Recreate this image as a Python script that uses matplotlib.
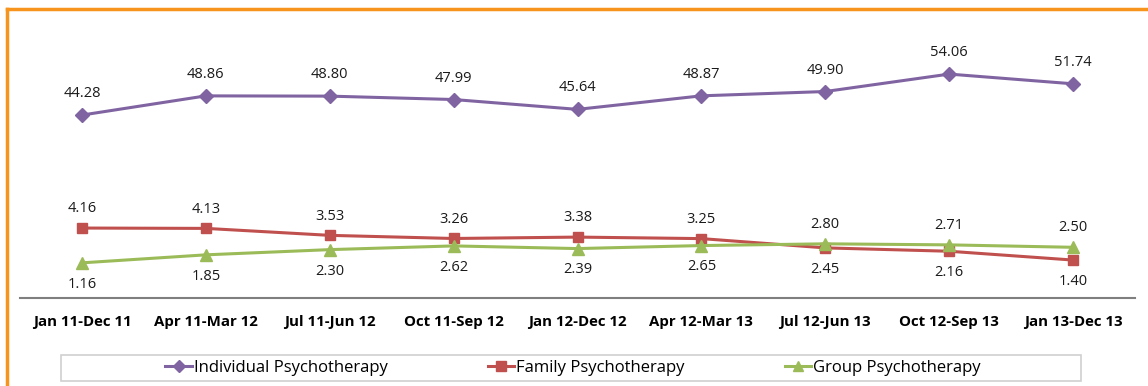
import matplotlib.pyplot as plt
from matplotlib.lines import Line2D
from matplotlib.patches import Rectangle

periods = ['Jan 11-Dec 11', 'Apr 11-Mar 12', 'Jul 11-Jun 12', 'Oct 11-Sep 12',
           'Jan 12-Dec 12', 'Apr 12-Mar 13', 'Jul 12-Jun 13', 'Oct 12-Sep 13',
           'Jan 13-Dec 13']
individual = [44.28, 48.86, 48.80, 47.99, 45.64, 48.87, 49.90, 54.06, 51.74]
family = [4.16, 4.13, 3.53, 3.26, 3.38, 3.25, 2.45, 2.16, 1.40]
group = [1.16, 1.85, 2.30, 2.62, 2.39, 2.65, 2.80, 2.71, 2.50]

purple = '#8064A2'
red = '#C0504D'
green = '#9BBB59'
font = 'Open Sans'

W, H = 1148, 386
fig = plt.figure(figsize=(W / 100, H / 100), dpi=100)

# plot area in pixels: x 20..1135, y 40..298
ax = fig.add_axes([20 / W, (H - 298) / H, 1115 / W, 258 / H])
ax2 = ax.twinx()

x = list(range(len(periods)))

ax.plot(x, family, color=red, lw=2.2, marker='s', ms=7.5, zorder=3)
ax.plot(x, group, color=green, lw=2.2, marker='^', ms=8, zorder=3)
ax2.plot(x, individual, color=purple, lw=2.2, marker='D', ms=7, zorder=3)

# lower series scale: y_px = 276.3 - 11.6 v
ax.set_ylim((276.3 - 298) / 11.6, (276.3 - 40) / 11.6)
# individual scale: y_px = 300.6 - 4.19 v
ax2.set_ylim((300.6 - 298) / 4.19, (300.6 - 40) / 4.19)
ax.set_xlim(-0.5, len(periods) - 0.5)

for a in (ax, ax2):
    for s in ('top', 'right', 'left'):
        a.spines[s].set_visible(False)
    a.set_yticks([])
ax2.spines['bottom'].set_visible(False)
ax.spines['bottom'].set_color('#7f7f7f')
ax.spines['bottom'].set_linewidth(1.5)

ax.set_xticks(x)
ax.set_xticklabels(periods, fontsize=10.8, fontweight='bold', family=font)
ax.tick_params(axis='x', length=0, pad=12)

lab = dict(fontsize=10.5, family=font, ha='center', color='#1a1a1a')
for i, v in enumerate(individual):
    ax2.annotate(f'{v:.2f}', (i, v), xytext=(0, 10), textcoords='offset points',
                 va='bottom', **lab)
for i in x:
    f, g = family[i], group[i]
    f_up = f >= g
    ax.annotate(f'{f:.2f}', (i, f), xytext=(0, 8.5 if f_up else -10),
                textcoords='offset points', va='bottom' if f_up else 'top', **lab)
    ax.annotate(f'{g:.2f}', (i, g), xytext=(0, -10 if f_up else 8.5),
                textcoords='offset points', va='top' if f_up else 'bottom', **lab)

# legend box
fig.add_artist(Rectangle((61 / W, (H - 381) / H), 1020 / W, 26 / H,
                         transform=fig.transFigure, fill=False,
                         edgecolor='#d0d0d0', lw=1.2))
handles = [Line2D([], [], color=purple, lw=2.2, marker='D', ms=6.5),
           Line2D([], [], color=red, lw=2.2, marker='s', ms=7.5),
           Line2D([], [], color=green, lw=2.2, marker='^', ms=7.5)]
names = ['Individual Psychotherapy', 'Family Psychotherapy', 'Group Psychotherapy']
fig.legend(handles, names, loc='center', ncol=3,
           bbox_to_anchor=(573 / W, (H - 368) / H),
           prop={'family': font, 'size': 12}, frameon=False,
           handlelength=1.6, handletextpad=0.1, columnspacing=6.0,
           borderpad=0.1)

# orange frame on top and left
fig.add_artist(Line2D([7 / W, 1], [(H - 9) / H, (H - 9) / H], color='#F7941D', lw=2.5))
fig.add_artist(Line2D([7 / W, 7 / W], [0, (H - 9) / H], color='#F7941D', lw=2.5))

fig.savefig('out.png', dpi=100)
